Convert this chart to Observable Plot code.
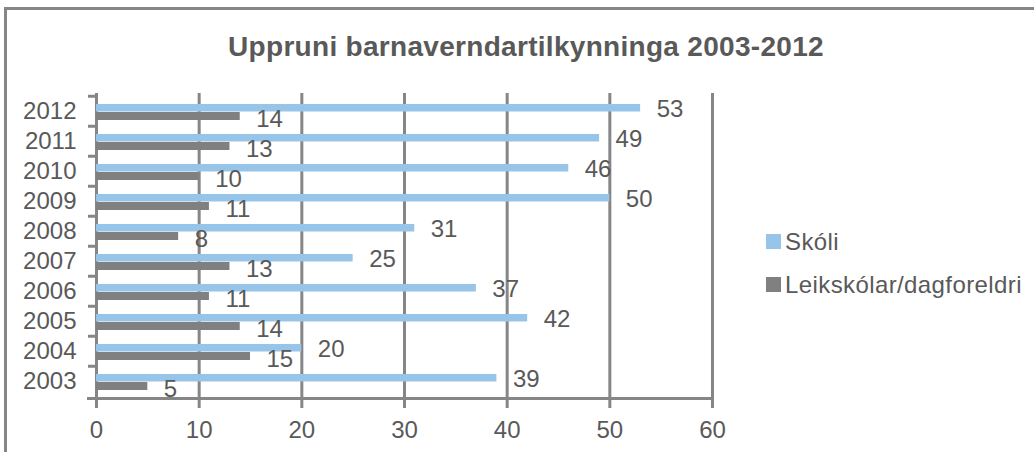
<!DOCTYPE html>
<html><head><meta charset="utf-8">
<script src="https://cdn.jsdelivr.net/npm/d3@7"></script>
<script src="https://cdn.jsdelivr.net/npm/@observablehq/plot@0.6"></script>
<style>
body{margin:0;background:#fff;}
#wrap{position:relative;width:1034px;height:452px;overflow:hidden;font-family:"Liberation Sans",Arial,sans-serif;color:#595959;}
#frame{position:absolute;left:4px;top:7px;width:1100px;height:500px;border-left:3px solid #868686;border-top:3px solid #868686;}
#title{position:absolute;left:0;width:1052px;top:31px;text-align:center;font-weight:bold;font-size:28px;letter-spacing:0.3px;line-height:32px;}
#legend{position:absolute;left:766px;top:220px;font-size:24px;letter-spacing:0.4px;}
.item{display:flex;align-items:center;height:43px;}
.sw{width:15px;height:15px;margin-right:4px;}
#chart svg{position:absolute;left:0;top:0;}
</style></head>
<body>
<div id="wrap">
  <div id="frame"></div>
  <div id="chart"></div>
  <div id="title"></div>
  <div id="legend"></div>
</div>
<script>
const titleText = "Uppruni barnaverndartilkynninga 2003-2012";
const years = ["2003","2004","2005","2006","2007","2008","2009","2010","2011","2012"];
const skoli = [39, 20, 42, 37, 25, 31, 50, 46, 49, 53];
const leikskolar = [5, 15, 14, 11, 13, 8, 11, 10, 13, 14];
const seriesNames = ["Skóli", "Leikskólar/dagforeldri"];
const seriesColors = ["#97C5EA", "#808080"];
const xTicks = [0, 10, 20, 30, 40, 50, 60];

const rows = years.map((y, i) => ({year: y, skoli: skoli[i], leik: leikskolar[i]}));
const gridColor = "#868686";
const textColor = "#595959";

const chart = Plot.plot({
  width: 1034, height: 452,
  marginLeft: 96, marginRight: 322, marginTop: 93, marginBottom: 54,
  style: {fontFamily: "'Liberation Sans', Arial, sans-serif", fontSize: "24px", color: textColor, background: "transparent", overflow: "visible"},
  x: {domain: [0, 60], label: null},
  y: {type: "band", domain: years.slice().reverse(), padding: 0, label: null},
  marks: [
    Plot.gridX(xTicks, {stroke: gridColor, strokeOpacity: 1, strokeWidth: 3}),
    Plot.barX(rows, {x: "skoli", y: "year", fill: seriesColors[0], insetTop: 8, insetBottom: 14.5}),
    Plot.barX(rows, {x: "leik", y: "year", fill: seriesColors[1], insetTop: 16, insetBottom: 6}),
    Plot.text(rows, {x: "skoli", y: "year", text: d => String(d.skoli), dx: 16, dy: -2, textAnchor: "start", fill: textColor, fontSize: 24}),
    Plot.text(rows, {x: "leik", y: "year", text: d => String(d.leik), dx: 16, dy: 8, textAnchor: "start", fill: textColor, fontSize: 24}),
    Plot.axisY({tickSize: 8, text: null, label: null, dy: -15.25, stroke: gridColor, strokeWidth: 3, strokeOpacity: 1}),
    Plot.axisY({tickSize: 0, tickPadding: 20, fontSize: 24, fill: textColor, label: null}),
    Plot.axisX(xTicks, {tickSize: 10, tickPadding: 12, stroke: gridColor, strokeWidth: 3, strokeOpacity: 1, fill: textColor, fontSize: 24, label: null}),
    Plot.frame({anchor: "bottom", stroke: gridColor, strokeWidth: 3, strokeOpacity: 1, insetLeft: -8})
  ]
});
document.getElementById("chart").appendChild(chart);
document.getElementById("title").textContent = titleText;
const legend = document.getElementById("legend");
seriesNames.forEach((n, i) => {
  const it = document.createElement("div");
  it.className = "item";
  const sw = document.createElement("span");
  sw.className = "sw";
  sw.style.background = seriesColors[i];
  const t = document.createElement("span");
  t.textContent = n;
  it.appendChild(sw); it.appendChild(t);
  legend.appendChild(it);
});
</script>
</body></html>
